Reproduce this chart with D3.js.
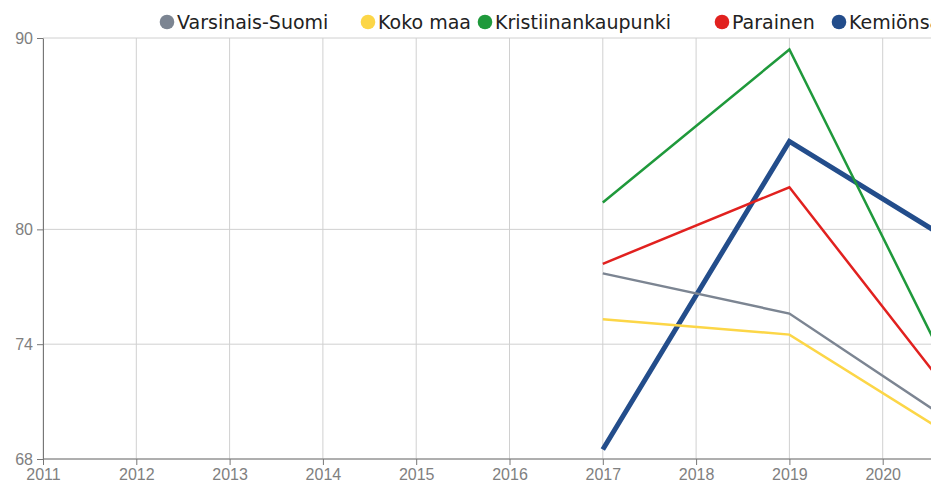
<!DOCTYPE html>
<html>
<head>
<meta charset="utf-8">
<script src="https://cdn.jsdelivr.net/npm/d3@7"></script>
<style>
	html, body { margin: 0; padding: 0; overflow: hidden; background: #fff; }
	svg { display: block; font-family: 'DejaVu Sans', sans-serif; }
	.grid line { stroke: #d0d0d0; stroke-width: 1; }
	.axis text { fill: #808080; font-size: 16px; }
	.axis path, .axis line { stroke: #777; }
</style>
</head>
<body>
<svg id="chart"></svg>
<script>
const years = [2017, 2019, 2021]
const yearTicks = [2011, 2012, 2013, 2014, 2015, 2016, 2017, 2018, 2019, 2020, 2021]
const yTicks = [68, 74, 80, 90]

const varsinaisSuomi = [77.7, 75.6, 69.1]
const kokoMaa = [75.3, 74.5, 68.4]
const kristiinankaupunki = [81.4, 89.4, 69.8]
const parainen = [78.2, 82.2, 69.7]
const kemionsaari = [68.5, 84.6, 78.6]

const seriesNames = ['Varsinais-Suomi', 'Koko maa', 'Kristiinankaupunki', 'Parainen', 'Kemiönsaari']
const seriesValues = [varsinaisSuomi, kokoMaa, kristiinankaupunki, parainen, kemionsaari]
const colors = ['#7c8592', '#fcd647', '#1f993b', '#e1211f', '#234d8b']
const widths = [2.5, 2.5, 2.5, 2.5, 5]

const width = 1010
const height = 487
const margin = {top: 38, right: 34, bottom: 28, left: 43}

const svg = d3.select('#chart')
	.attr('width', width)
	.attr('height', height)

const x = d3.scaleLinear()
	.domain([2011, 2021])
	.range([margin.left, width - margin.right])
const y = d3.scaleLinear()
	.domain([68, 90])
	.range([height - margin.bottom, margin.top])

// grid
const grid = svg.append('g').attr('class', 'grid')
grid.selectAll('line.v')
	.data(yearTicks)
	.join('line')
	.attr('class', 'v')
	.attr('x1', d => x(d)).attr('x2', d => x(d))
	.attr('y1', margin.top).attr('y2', height - margin.bottom)
grid.selectAll('line.h')
	.data(yTicks)
	.join('line')
	.attr('class', 'h')
	.attr('x1', margin.left).attr('x2', width)
	.attr('y1', d => y(d)).attr('y2', d => y(d))

// axes
svg.append('g')
	.attr('class', 'axis')
	.attr('transform', `translate(0, ${height - margin.bottom})`)
	.call(d3.axisBottom(x).tickValues(yearTicks).tickFormat(d3.format('d')).tickSizeOuter(0).tickPadding(4))
	.call(g => g.select('.domain').attr('d', `M${margin.left},0H${width}`))

svg.append('g')
	.attr('class', 'axis')
	.attr('transform', `translate(${margin.left}, 0)`)
	.call(d3.axisLeft(y).tickValues(yTicks).tickSizeOuter(0).tickPadding(4))

// lines, last series drawn first
const line = d3.line()
	.x((d, i) => x(years[i]))
	.y(d => y(d))

const order = d3.range(seriesNames.length).reverse()
svg.append('g')
	.selectAll('path')
	.data(order)
	.join('path')
	.attr('fill', 'none')
	.attr('stroke', i => colors[i])
	.attr('stroke-width', i => widths[i])
	.attr('stroke-linejoin', 'miter')
	.attr('d', i => line(seriesValues[i]))

// legend
const legend = svg.append('g').attr('transform', 'translate(160, 22)')
let offset = 0
seriesNames.forEach((name, i) => {
	const item = legend.append('g').attr('transform', `translate(${offset}, 0)`)
	item.append('circle')
		.attr('cx', 7).attr('cy', 0).attr('r', 7.3)
		.attr('fill', colors[i])
	item.append('text')
		.attr('x', 17)
		.attr('dy', '0.36em')
		.attr('font-size', 19)
		.attr('fill', '#222')
		.text(name)
	offset += 21 + 12 * name.length
})
</script>
</body>
</html>
